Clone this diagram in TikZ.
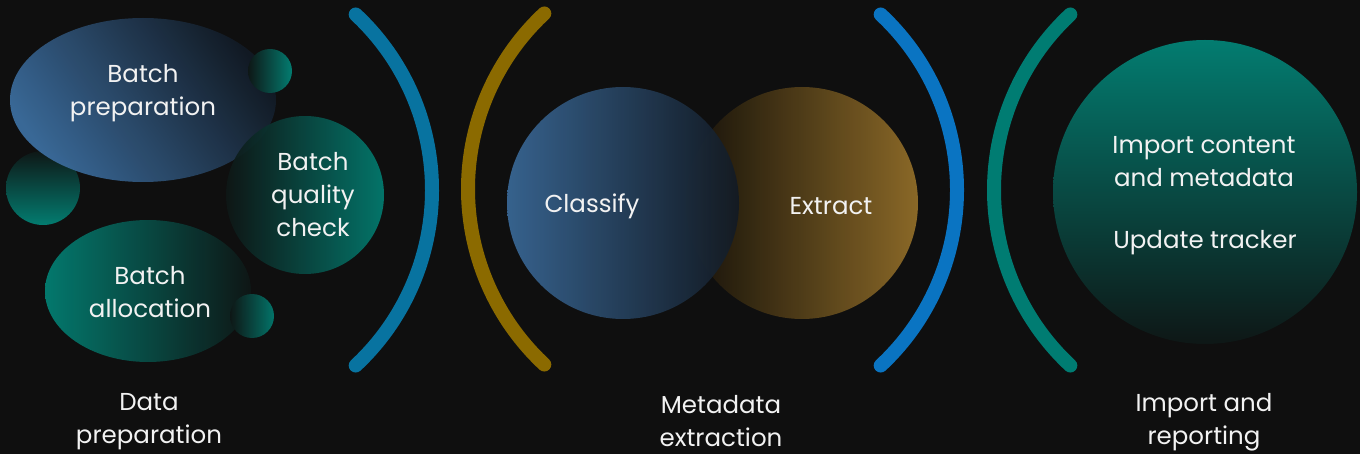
\documentclass[tikz,border=0pt]{standalone}
\usepackage{fontspec}
\setmainfont{Poppins}
\usetikzlibrary{shapes.geometric}
\definecolor{bg}{HTML}{0F0F0F}
\definecolor{ink}{HTML}{F2F2F2}
\definecolor{blueA}{HTML}{3B6B9B}
\definecolor{blueD}{HTML}{121A24}
\definecolor{tealA}{HTML}{037C70}
\definecolor{tealD}{HTML}{0E1716}
\definecolor{goldA}{HTML}{8E6B28}
\definecolor{goldD}{HTML}{15110A}
\definecolor{arcBlue}{HTML}{0873A0}
\definecolor{arcGold}{HTML}{8B6A00}
\definecolor{arcSky}{HTML}{0A74C2}
\definecolor{arcTeal}{HTML}{007C72}
\tikzset{
  blob/.style={draw=none, inner sep=0pt, outer sep=0pt},
  orb/.style={blob, circle, minimum size=#1},
  label/.style={text=ink, font=\fontsize{24.5}{33}\selectfont, align=center},
  bracket/.style={line width=14pt, line cap=round},
}
\begin{document}
\begin{tikzpicture}[x=1pt, y=1pt]
  \fill[bg] (0,0) rectangle (1360,-454);
  \useasboundingbox (0,0) rectangle (1360,-454);

  % data preparation cluster
  \node[orb=74pt, top color=tealD, bottom color=tealA] (dotL) at (43,-188) {};
  \node[blob, ellipse, minimum width=266pt, minimum height=164pt,
        top color=blueD, bottom color=blueA, shading angle=-55, fill opacity=0.97] (prep) at (143,-100) {};
  \node[orb=44pt, left color=tealD, right color=tealA] (dotT) at (270,-71) {};
  \node[blob, ellipse, minimum width=206pt, minimum height=142pt,
        left color=tealA, right color=tealD, fill opacity=0.97] (alloc) at (148,-291) {};
  \node[orb=158pt, left color=tealD, right color=tealA, fill opacity=0.93] (qual) at (305,-195) {};
  \node[orb=44pt, left color=tealD, right color=tealA, fill opacity=0.93] (dotB) at (252,-316) {};

  \node[label] (tprep) at (143,-93) {Batch\\preparation};
  \node[label] (tqual) at (313,-195) {Batch\\quality\\check};
  \node[label] (talloc) at (150,-292) {Batch\\allocation};

  % metadata extraction
  \node[orb=232pt, left color=goldD, right color=goldA, fill opacity=0.97] (extract) at (802,-203) {};
  \node[orb=232pt, left color=blueA, right color=blueD, fill opacity=0.9] (classify) at (623,-203) {};
  \node[label] (tclass) at (592,-206) {Classify};
  \node[label] (textr) at (831,-206) {Extract};

  % import and reporting
  \node[orb=304pt, top color=tealA, bottom color=tealD] (import) at (1205,-192) {};
  \node[label] (timp) at (1204,-162) {Import content\\and metadata};
  \node[label] (tupd) at (1205,-243) {Update tracker};

  % brackets between stages
  \draw[bracket, arcBlue] (192,-190) ++(-47:240) arc[start angle=-47, end angle=47, radius=240];
  \draw[bracket, arcGold] (708,-189) ++(133:240) arc[start angle=133, end angle=227, radius=240];
  \draw[bracket, arcSky] (717,-190) ++(-47:240) arc[start angle=-47, end angle=47, radius=240];
  \draw[bracket, arcTeal] (1234,-190) ++(133:240) arc[start angle=133, end angle=227, radius=240];

  % stage captions
  \node[label] (cap1) at (149,-422) {Data\\preparation};
  \node[label] (cap2) at (721,-421) {Metadata\\extraction};
  \node[label] (cap3) at (1204,-422) {Import and\\reporting};
\end{tikzpicture}
\end{document}
